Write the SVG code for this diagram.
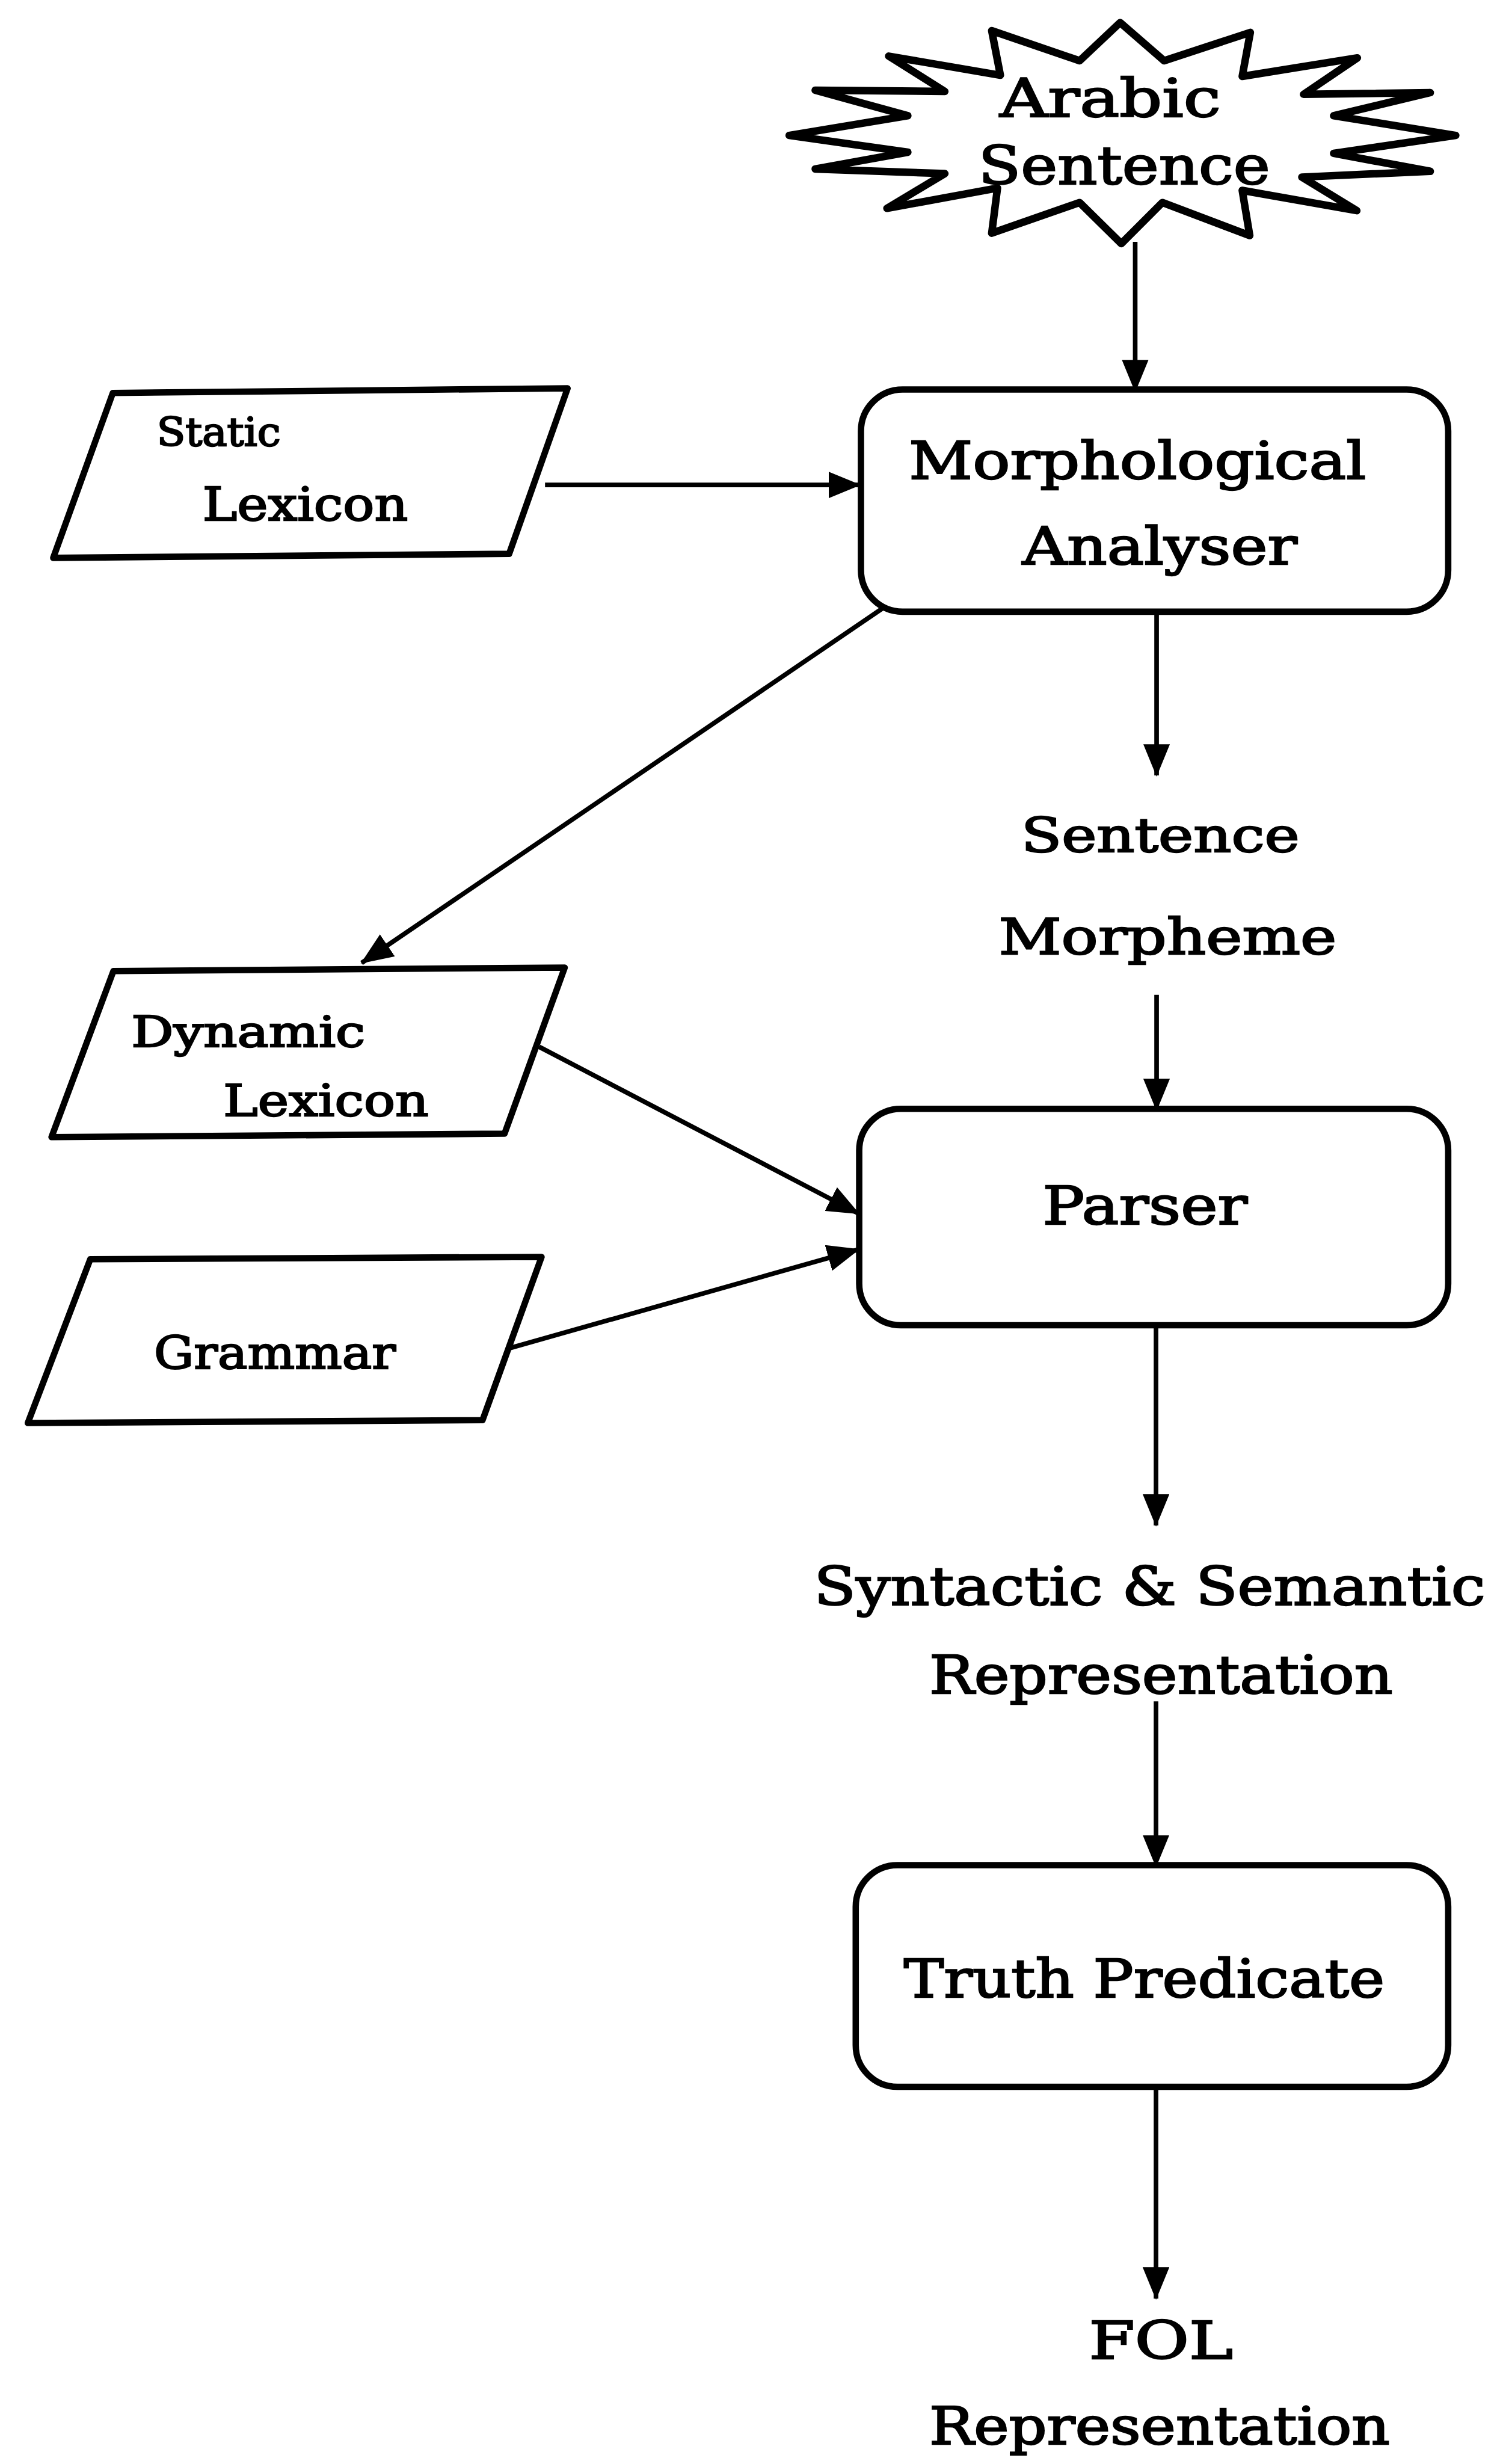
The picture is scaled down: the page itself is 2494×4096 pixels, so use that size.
<svg xmlns="http://www.w3.org/2000/svg" width="2494" height="4096" viewBox="0 0 2494 4096">
  <style>
    .shape { fill: #ffffff; stroke: #000000; stroke-linejoin: round; }
    .star { stroke-width: 13; }
    .para { stroke-width: 11; }
    .box { stroke-width: 11; }
    .edge { fill: none; stroke: #000000; stroke-width: 8; marker-end: url(#arrow); }
    .lbl { font-family: "DejaVu Serif", "Liberation Serif", serif; fill: #000000; stroke: #000000; stroke-width: 2.5; }
  </style>
  <defs>
    <marker id="arrow" markerUnits="userSpaceOnUse" viewBox="0 0 56 46" markerWidth="56" markerHeight="46" refX="54" refY="23" orient="auto">
      <path d="M0,0 L56,23 L0,46 Z" fill="#000000"/>
    </marker>
  </defs>
  <rect width="2494" height="4096" fill="#ffffff"/>
  <g transform="scale(0.962)">
    <g id="connectors">
      <line class="edge" x1="1962" y1="418" x2="1962" y2="676"/>
      <line class="edge" x1="942" y1="838" x2="1486" y2="838"/>
      <line class="edge" x1="1533" y1="1046" x2="625" y2="1664"/>
      <line class="edge" x1="1999" y1="1054" x2="1999" y2="1340"/>
      <line class="edge" x1="1999" y1="1719" x2="1999" y2="1918"/>
      <line class="edge" x1="932" y1="1809" x2="1484" y2="2097"/>
      <line class="edge" x1="862" y1="2335" x2="1484" y2="2159"/>
      <line class="edge" x1="1998" y1="2292" x2="1998" y2="2636"/>
      <line class="edge" x1="1998" y1="2940" x2="1998" y2="3225"/>
      <line class="edge" x1="1998" y1="3608" x2="1998" y2="3972"/>
    </g>

    <g id="arabic-sentence">
      <polygon class="shape star" points="1936,39 2012,105 2161,56 2147,132 2346,100 2253,163 2472,160 2305,200 2516,234 2305,265 2472,296 2250,306 2345,364 2147,329 2160,407 2009,350 1938,421 1866,350 1714,403 1724,325 1533,360 1633,300 1409,292 1569,263 1364,234 1569,200 1409,156 1633,158 1536,97 1729,130 1714,53 1866,105"/>
      <text class="lbl" x="1728" y="202" font-size="92" textLength="382" lengthAdjust="spacingAndGlyphs">Arabic</text>
      <text class="lbl" x="1691" y="318" font-size="92" textLength="504" lengthAdjust="spacingAndGlyphs">Sentence</text>
    </g>

    <g id="static-lexicon">
      <polygon class="shape para" points="195,679 981,671 880,957 92,964"/>
      <text class="lbl" x="271" y="770" font-size="68" textLength="214" lengthAdjust="spacingAndGlyphs">Static</text>
      <text class="lbl" x="350" y="899" font-size="80" textLength="355" lengthAdjust="spacingAndGlyphs">Lexicon</text>
    </g>

    <g id="morphological-analyser">
      <rect class="shape box" x="1488" y="673" width="1015" height="384" rx="72" ry="72"/>
      <text class="lbl" x="1571" y="827" font-size="90" textLength="790" lengthAdjust="spacingAndGlyphs">Morphological</text>
      <text class="lbl" x="1767" y="975" font-size="90" textLength="475" lengthAdjust="spacingAndGlyphs">Analyser</text>
    </g>

    <g id="sentence-morpheme">
      <text class="lbl" x="1765" y="1472" font-size="82" textLength="481" lengthAdjust="spacingAndGlyphs">Sentence</text>
      <text class="lbl" x="1726" y="1649" font-size="86" textLength="584" lengthAdjust="spacingAndGlyphs">Morpheme</text>
    </g>

    <g id="dynamic-lexicon">
      <polygon class="shape para" points="196,1678 976,1672 872,1959 89,1965"/>
      <text class="lbl" x="227" y="1809" font-size="74" textLength="404" lengthAdjust="spacingAndGlyphs">Dynamic</text>
      <text class="lbl" x="386" y="1928" font-size="76" textLength="355" lengthAdjust="spacingAndGlyphs">Lexicon</text>
    </g>

    <g id="grammar">
      <polygon class="shape para" points="156,2176 936,2172 834,2454 48,2459"/>
      <text class="lbl" x="266" y="2365" font-size="78" textLength="418" lengthAdjust="spacingAndGlyphs">Grammar</text>
    </g>

    <g id="parser">
      <rect class="shape box" x="1485" y="1916" width="1018" height="374" rx="72" ry="72"/>
      <text class="lbl" x="1802" y="2115" font-size="92" textLength="354" lengthAdjust="spacingAndGlyphs">Parser</text>
    </g>

    <g id="syntactic-semantic">
      <text class="lbl" x="1407" y="2773" font-size="92" textLength="1160" lengthAdjust="spacingAndGlyphs">Syntactic &amp; Semantic</text>
      <text class="lbl" x="1606" y="2926" font-size="92" textLength="801" lengthAdjust="spacingAndGlyphs">Representation</text>
    </g>

    <g id="truth-predicate">
      <rect class="shape box" x="1479" y="3223" width="1024" height="383" rx="72" ry="72"/>
      <text class="lbl" x="1562" y="3451" font-size="92" textLength="831" lengthAdjust="spacingAndGlyphs">Truth Predicate</text>
    </g>

    <g id="fol-representation">
      <text class="lbl" x="1882" y="4076" font-size="90" textLength="249" lengthAdjust="spacingAndGlyphs">FOL</text>
      <text class="lbl" x="1606" y="4223" font-size="90" textLength="796" lengthAdjust="spacingAndGlyphs">Representation</text>
    </g>
  </g>
</svg>
